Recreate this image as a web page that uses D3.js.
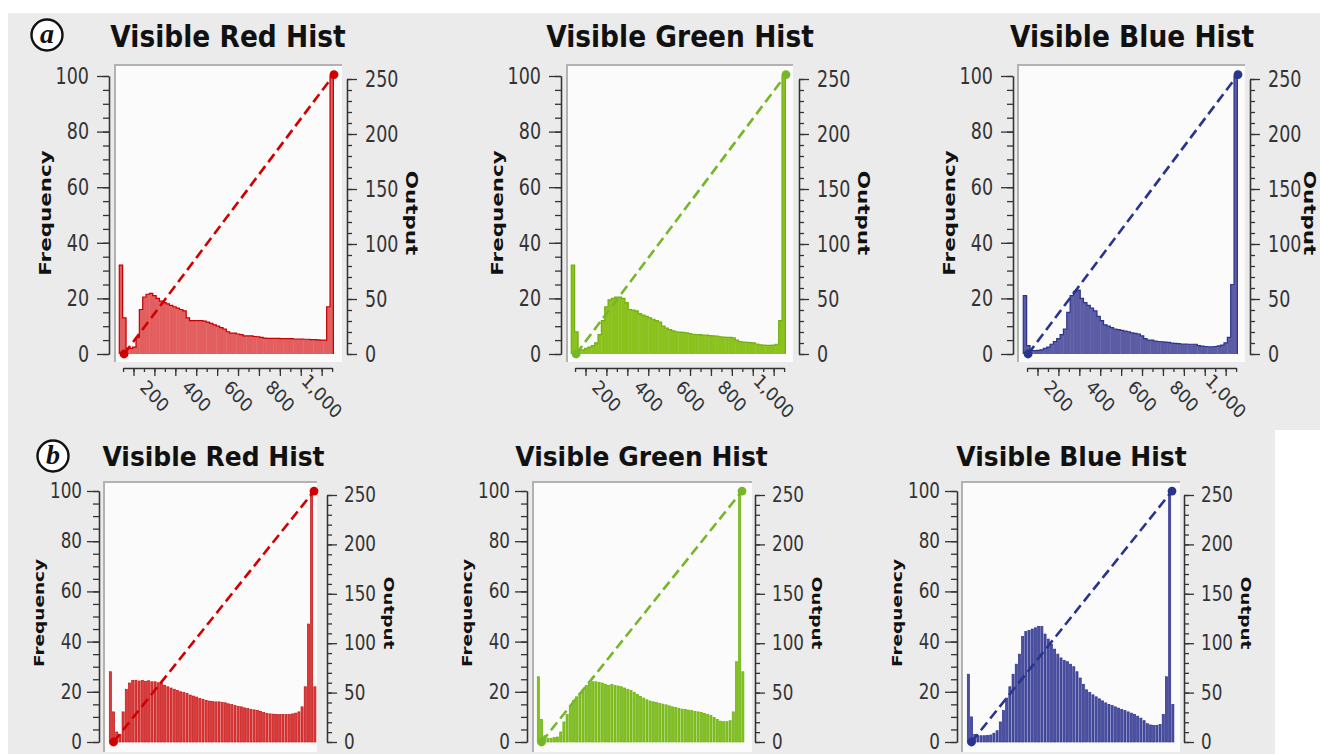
<!DOCTYPE html>
<html>
<head>
<meta charset="utf-8">
<script src="https://cdn.jsdelivr.net/npm/d3@7"></script>
<style>
  body { margin: 0; background: #fff; }
  svg { display: block; }
  .tick line, .domain { stroke: #333; stroke-width: 1.3; }
</style>
</head>
<body>
<div id="chart"></div>
<script>
// histogram bins: 16 input units wide, first bin starts at 32
var binStart = 32;
var binWidth = 16;

// (a) frequencies, one value per bin
var redA = [32, 13, 2, 2, 2.5, 6, 16, 20.5, 21.5, 21.8,
  21, 20, 19, 18.5, 18, 17.5, 17, 16.5, 16, 15.5,
  13, 12, 12, 12, 12, 11.8, 11.5, 11, 10.5, 10,
  9.5, 9, 8, 7.5, 7.5, 7.2, 7, 6.5, 6.5, 6.5,
  6.3, 6.2, 6, 5.7, 5.6, 5.6, 5.6, 5.6, 5.5, 5.5,
  5.5, 5.5, 5.4, 5.4, 5.4, 5.3, 5.3, 5.2, 5.2, 5.1,
  5, 5, 17, 100];
var greenA = [32, 8, 1.5, 1.5, 2, 2.5, 3, 4, 7, 12,
  17, 19.5, 20, 20.5, 20.5, 20, 18.5, 16, 15.8, 15.5,
  14.5, 14, 13.5, 13, 12.5, 12, 11.5, 10, 9.3, 8.8,
  8.3, 8, 7.9, 7.8, 7.6, 7.3, 7.1, 7, 7, 6.8,
  6.8, 6.6, 6.5, 6.4, 6.2, 6.1, 6, 6, 5.8, 5,
  4.5, 4.3, 4.2, 4.1, 4, 3.6, 3.3, 3.2, 3.1, 3.1,
  3.2, 3.5, 12, 100];
var blueA = [21, 3, 1.2, 1.2, 1.3, 1.5, 2, 2.5, 3.5, 4.5,
  5.5, 7, 9, 15, 21, 22.5, 23, 20, 18.5, 17.5,
  16.5, 15.5, 13.5, 12, 10.5, 10, 9.5, 9, 8.8, 8.5,
  8.2, 8, 7.6, 7.4, 7.2, 6.5, 5.5, 5, 5, 4.6,
  4.5, 4.4, 4.3, 4.2, 3.9, 3.8, 3.7, 3.6, 3.6, 3.5,
  3.5, 3.5, 3.0, 2.8, 2.7, 2.6, 2.6, 2.7, 2.9, 3.2,
  4, 6, 25, 100];

// (b) frequencies
var redB = [28, 12, 4, 3, 12, 21, 23.5, 24.5, 24.6, 24.3,
  24.5, 24.2, 24.4, 24, 24, 23.6, 23.3, 22.6, 22, 21.5,
  21, 20.5, 20, 19.8, 19.3, 18.7, 18.3, 17.9, 17.4, 17,
  16.6, 16.3, 16.1, 16, 16, 15.8, 15.6, 15.2, 14.9, 14.5,
  14.2, 14, 13.6, 13.3, 13, 12.8, 12.6, 12.2, 11.8, 11.4,
  11.2, 11.1, 11, 11, 11, 11, 11, 11.2, 11.5, 12,
  14, 22, 47, 100, 22];
var greenB = [26, 9, 2.5, 1.5, 1.5, 1.8, 2, 4, 8, 11,
  14, 16.5, 18, 19.5, 21, 22.5, 23.3, 24, 24, 23.8,
  23.5, 23, 22.5, 23, 22.5, 22.3, 22, 21.5, 21, 20.5,
  19.8, 19, 18.2, 17.5, 16.8, 16.3, 16, 15.7, 15.4, 15.1,
  14.8, 14.4, 14, 13.7, 13.4, 13.1, 13, 12.7, 12.5, 12.2,
  12, 11.7, 11.4, 11, 10.5, 9.8, 9, 8.3, 8.1, 8.1,
  8.5, 12, 32, 100, 28];
var blueB = [27, 10, 3, 2.5, 2.5, 2.5, 2.6, 2.8, 3.5, 4.5,
  8, 12.5, 17.5, 22, 27, 31, 35, 42, 44, 44.5,
  45, 45.5, 46, 46, 43, 41, 39, 37, 35, 33.5,
  32.5, 32, 31, 30, 28, 25.5, 23, 20.8, 19.8, 18.8,
  18, 17.2, 16.4, 15.6, 15, 14.5, 14, 13.5, 13, 12.5,
  12, 11.5, 11, 10.3, 9.5, 8.5, 7.3, 6.8, 6.6, 6.6,
  7, 11, 26, 100, 15];

// transfer curve (input -> output), same in every panel
var curveIn = [55, 1059];
var curveOut = [0, 254];

var freqTicks = [0, 20, 40, 60, 80, 100];
var outTicks = [0, 50, 100, 150, 200, 250];
var inTicks = [200, 400, 600, 800, 1000];
var titles = ["Visible Red Hist", "Visible Green Hist", "Visible Blue Hist"];

var W = 1320, H = 754;
var font = "DejaVu Sans";

// row layouts
var rowA = {y0: 354, y100: 76, o0: 354, o250: 79, boxTop: 65, boxBottom: 362,
  xr: [13, 225], xAxisY: 368, titleY: 47, titleSize: 26.5, titleSy: 1.12, titleDx: 119,
  tickFont: 17.5, tickSy: 1.3, padL: 8, padR: 8,
  labFont: 16, labSy: 1.34, freqDx: -64, outDx: 65, labY: 213, gap: 0};
var rowB = {y0: 742, y100: 491, o0: 742, o250: 495, boxTop: 482, boxBottom: 752,
  xr: [12.5, 215], xAxisY: null, titleY: 466, titleSize: 25, titleSy: 1.07, titleDx: 114.5,
  tickFont: 16.8, tickSy: 1.22, padL: 5, padR: 7,
  labFont: 14, labSy: 1.32, freqDx: -60, outDx: 62, labY: 613, gap: 1};

var panels = [
  {row: rowA, L: 109, R: 347, boxL: 115, boxR: 342, t: 0, data: redA, fill: "#e35f5f", edge: "#c40000", line: "#d00000"},
  {row: rowA, L: 561, R: 799, boxL: 567, boxR: 793, t: 1, data: greenA, fill: "#8cc21e", edge: "#72b012", line: "#76b72a"},
  {row: rowA, L: 1013, R: 1250, boxL: 1018, boxR: 1245, t: 2, data: blueA, fill: "#5c5ca5", edge: "#2b358f", line: "#28358c", outX: 1310},
  {row: rowB, L: 99, R: 327, boxL: 104, boxR: 317, t: 0, data: redB, fill: "#e03a3a", edge: "#c21515", line: "#d00000"},
  {row: rowB, L: 527, R: 755, boxL: 533, boxR: 752, t: 1, data: greenB, fill: "#84c21b", edge: "#6aaf10", line: "#76b72a"},
  {row: rowB, L: 957, R: 1184, boxL: 962, boxR: 1180, t: 2, data: blueB, fill: "#4b4f9f", edge: "#2d348d", line: "#28358c"}
];

var svg = d3.select("#chart").append("svg")
  .attr("width", W).attr("height", H);

// background
svg.append("rect").attr("width", W).attr("height", H).attr("fill", "#ebebeb");
svg.append("rect").attr("width", W).attr("height", 13).attr("fill", "#fff");
svg.append("rect").attr("width", 8).attr("height", H).attr("fill", "#fff");
svg.append("rect").attr("x", 1275).attr("y", 430).attr("width", 45).attr("height", H - 430).attr("fill", "#fff");

// circled panel letters
[["a", 47, 35], ["b", 53, 456]].forEach(function(m) {
  var g = svg.append("g").attr("transform", "translate(" + m[1] + "," + m[2] + ")");
  g.append("circle").attr("r", 15.5).attr("fill", "#fff").attr("stroke", "#111").attr("stroke-width", 2.4);
  g.append("text").attr("y", 7.5).attr("text-anchor", "middle")
    .attr("font-family", "Liberation Serif").attr("font-style", "italic").attr("font-weight", "bold")
    .attr("font-size", 28).attr("fill", "#111").text(m[0]);
});

function styleTickText(sel, row) {
  sel.selectAll(".tick text")
    .attr("font-family", font).attr("font-size", row.tickFont).attr("fill", "#333")
    .attr("transform", "scale(1," + row.tickSy + ")");
}

panels.forEach(function(p) {
  var row = p.row;
  var g = svg.append("g");

  var x = d3.scaleLinear().domain([45, 1059]).range([p.L + row.xr[0], p.L + row.xr[1]]);
  var y = d3.scaleLinear().domain([0, 100]).range([row.y0, row.y100]);
  var yOut = d3.scaleLinear().domain([0, 250]).range([row.o0, row.o250]);

  // plot box
  g.append("rect").attr("x", p.boxL).attr("y", row.boxTop)
    .attr("width", p.boxR - p.boxL).attr("height", row.boxBottom - row.boxTop)
    .attr("fill", "#fbfbfb");
  g.append("path")
    .attr("d", "M" + p.boxL + "," + row.boxBottom + "V" + row.boxTop + "H" + p.boxR)
    .attr("fill", "none").attr("stroke", "#b2b2b2").attr("stroke-width", 2);

  // histogram bars
  var bins = p.data.map(function(v, i) {
    return {x0: binStart + i * binWidth, x1: binStart + (i + 1) * binWidth, v: v};
  });
  if (row.gap === 0) {
    g.selectAll(".bar").data(bins).enter().append("rect")
      .attr("x", function(d) { return x(d.x0); })
      .attr("width", function(d) { return x(d.x1) - x(d.x0) + 0.4; })
      .attr("y", function(d) { return y(d.v); })
      .attr("height", function(d) { return y(0) - y(d.v); })
      .attr("fill", p.fill);
    var pts = [[x(bins[0].x0), y(0)]];
    bins.forEach(function(d) { pts.push([x(d.x0), y(d.v)]); pts.push([x(d.x1), y(d.v)]); });
    pts.push([x(bins[bins.length - 1].x1), y(0)]);
    g.append("path").attr("d", d3.line()(pts))
      .attr("fill", "none").attr("stroke", p.edge).attr("stroke-width", 1.2);
  } else {
    g.selectAll(".bar").data(bins).enter().append("rect")
      .attr("x", function(d) { return x(d.x0) + 0.4; })
      .attr("width", function(d) { return x(d.x1) - x(d.x0) - 1.1; })
      .attr("y", function(d) { return y(d.v); })
      .attr("height", function(d) { return y(0) - y(d.v); })
      .attr("fill", p.fill).attr("stroke", p.edge).attr("stroke-width", 0.7);
  }

  // transfer curve
  var curve = curveIn.map(function(v, i) { return [x(v), yOut(curveOut[i])]; });
  g.append("path").attr("d", d3.line()(curve))
    .attr("fill", "none").attr("stroke", p.line).attr("stroke-width", 2.6)
    .attr("stroke-dasharray", "10,5");
  g.selectAll(".dot").data(curve).enter().append("circle")
    .attr("cx", function(d) { return d[0]; }).attr("cy", function(d) { return d[1]; })
    .attr("r", 4.4).attr("fill", p.line);

  // left axis
  g.append("g").attr("transform", "translate(" + p.L + ",0)")
    .call(d3.axisLeft(y).ticks(20).tickSize(6).tickSizeOuter(0).tickFormat(""));
  var la = g.append("g").attr("transform", "translate(" + p.L + ",0)")
    .call(d3.axisLeft(y).tickValues(freqTicks).tickSize(12).tickSizeOuter(0).tickPadding(row.padL));
  styleTickText(la, row);

  // right axis
  g.append("g").attr("transform", "translate(" + p.R + ",0)")
    .call(d3.axisRight(yOut).ticks(25).tickSize(5).tickSizeOuter(0).tickFormat(""));
  var ra = g.append("g").attr("transform", "translate(" + p.R + ",0)")
    .call(d3.axisRight(yOut).tickValues(outTicks).tickSize(10).tickSizeOuter(0).tickPadding(row.padR));
  styleTickText(ra, row);

  // bottom axis (only visible in row a)
  if (row.xAxisY !== null) {
    var xa = d3.scaleLinear().domain([50, 1050]).range([x(50), x(1050)]);
    g.append("g").attr("transform", "translate(0," + row.xAxisY + ")")
      .call(d3.axisBottom(xa).ticks(20).tickSize(4).tickSizeOuter(0).tickFormat(""));
    g.append("g").attr("transform", "translate(0," + row.xAxisY + ")")
      .call(d3.axisBottom(xa).ticks(10).tickSize(8).tickSizeOuter(0).tickFormat(""))
      .select(".domain").remove();
    var lab = g.append("g").attr("transform", "translate(0," + row.xAxisY + ")")
      .call(d3.axisBottom(xa).tickValues(inTicks).tickSize(0).tickFormat(d3.format(",")));
    lab.select(".domain").remove();
    lab.selectAll(".tick text")
      .attr("font-family", font).attr("font-size", 17).attr("fill", "#333")
      .attr("y", 0).attr("dy", null)
      .attr("text-anchor", "middle").attr("dominant-baseline", "central")
      .attr("transform", "translate(0,28) scale(1,1.1) rotate(45)");
  }

  // titles and axis names
  g.append("text")
    .attr("transform", "translate(" + (p.L + row.titleDx) + "," + row.titleY + ") scale(1," + row.titleSy + ")")
    .attr("text-anchor", "middle").attr("font-family", font).attr("font-weight", "bold")
    .attr("font-size", row.titleSize).attr("fill", "#111").text(titles[p.t]);
  g.append("text")
    .attr("transform", "translate(" + (p.L + row.freqDx) + "," + row.labY + ") scale(1," + row.labSy + ") rotate(-90)")
    .attr("text-anchor", "middle").attr("dominant-baseline", "central")
    .attr("font-family", font).attr("font-weight", "bold").attr("font-size", row.labFont)
    .attr("fill", "#111").text("Frequency");
  var outX = p.outX !== undefined ? p.outX : p.R + row.outDx;
  g.append("text")
    .attr("transform", "translate(" + outX + "," + row.labY + ") scale(1," + row.labSy + ") rotate(90)")
    .attr("text-anchor", "middle").attr("dominant-baseline", "central")
    .attr("font-family", font).attr("font-weight", "bold").attr("font-size", row.labFont)
    .attr("fill", "#111").text("Output");
});
</script>
</body>
</html>
